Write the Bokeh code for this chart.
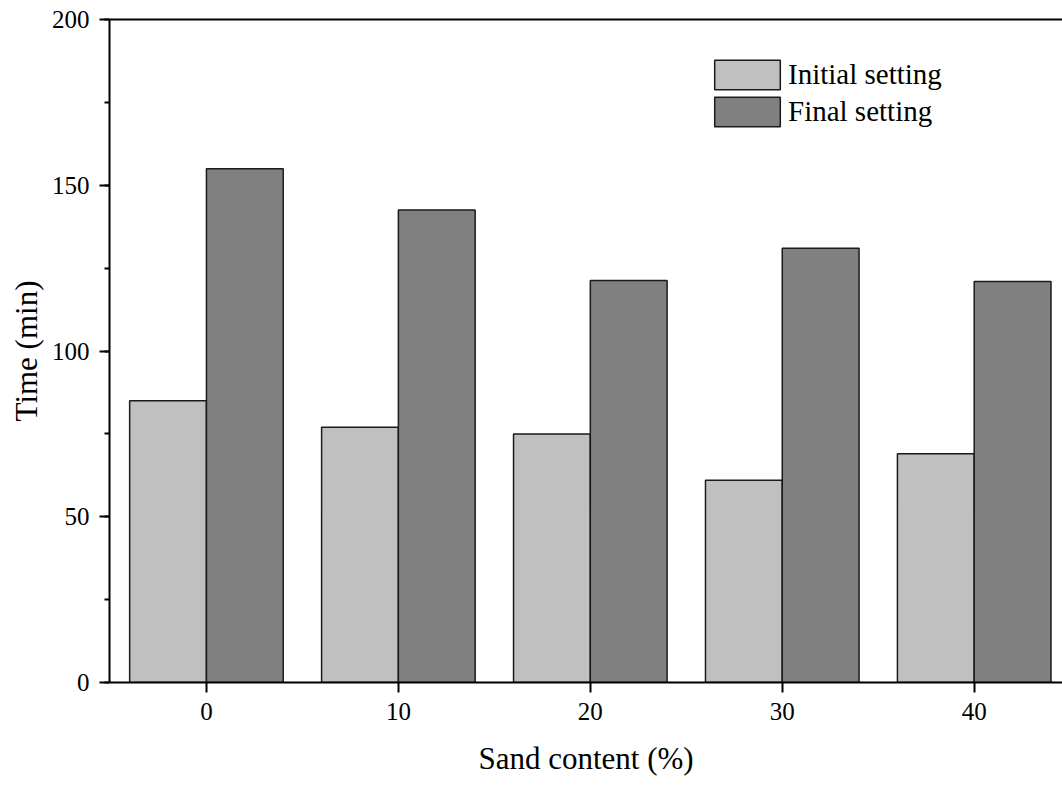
from bokeh.plotting import figure
from bokeh.models import (ColumnDataSource, Range1d, FixedTicker, SingleIntervalTicker,
                          LinearAxis, Legend, LegendItem)
from bokeh.transform import dodge
from bokeh.embed import file_html
from bokeh.resources import INLINE

# Setting times of the mortar for each sand content
sand_content = [0, 10, 20, 30, 40]
initial_setting = [85, 77, 75, 61, 69]
final_setting = [155, 142.5, 121.3, 131, 121]
x_ticks = [0, 10, 20, 30, 40]

FONT = "Liberation Serif"

src = ColumnDataSource(dict(sand=sand_content, initial=initial_setting, final=final_setting))

p = figure(width=1062, height=785, output_backend="svg", toolbar_location=None,
           x_range=Range1d(-5.05, 44.6), y_range=Range1d(0, 200),
           min_border_left=109, min_border_right=0, min_border_top=19, min_border_bottom=103)
p.outline_line_color = None
p.grid.visible = False
p.background_fill_color = "white"

r_init = p.vbar(x=dodge("sand", -2), top="initial", width=4, bottom=0, source=src,
                fill_color="#C0C0C0", line_color="#1a1a1a", line_width=1.5)
r_final = p.vbar(x=dodge("sand", 2), top="final", width=4, bottom=0, source=src,
                 fill_color="#808080", line_color="#1a1a1a", line_width=1.5)

# Axes
xa = p.xaxis[0]
xa.ticker = FixedTicker(ticks=x_ticks, minor_ticks=[])
xa.axis_label = "Sand content (%)"
ya = p.yaxis[0]
ya.ticker = SingleIntervalTicker(interval=50, num_minor_ticks=2)
ya.axis_label = "Time (min)"

for ax in (xa, ya):
    ax.axis_line_width = 2
    ax.axis_line_color = "black"
    ax.major_tick_line_width = 2
    ax.major_tick_line_color = "black"
    ax.major_tick_out = 10
    ax.major_tick_in = 0
    ax.minor_tick_line_width = 2
    ax.minor_tick_line_color = "black"
    ax.minor_tick_out = 5
    ax.minor_tick_in = 0
    ax.major_label_text_font = FONT
    ax.major_label_text_font_size = "25px"
    ax.major_label_text_color = "black"
    ax.axis_label_text_font = FONT
    ax.axis_label_text_font_size = "31px"
    ax.axis_label_text_font_style = "normal"
    ax.axis_label_text_color = "black"

xa.major_label_standoff = 10
xa.axis_label_standoff = 18
ya.major_label_standoff = 10
ya.axis_label_standoff = 5

# Frame line along the top edge
top = LinearAxis(ticker=FixedTicker(ticks=[]), axis_line_width=2, axis_line_color="black",
                 major_tick_line_color=None, minor_tick_line_color=None,
                 major_label_text_font_size="0px")
p.add_layout(top, "above")

legend = Legend(items=[LegendItem(label="Initial setting", renderers=[r_init]),
                       LegendItem(label="Final setting", renderers=[r_final])],
                location=(597, 552), glyph_width=82, glyph_height=37,
                label_text_font=FONT, label_text_font_size="29px", label_text_color="black",
                label_standoff=0, spacing=-3, padding=0, margin=0, border_line_color=None,
                background_fill_alpha=0)
p.add_layout(legend)

open("out.html", "w").write(file_html(p, INLINE))
